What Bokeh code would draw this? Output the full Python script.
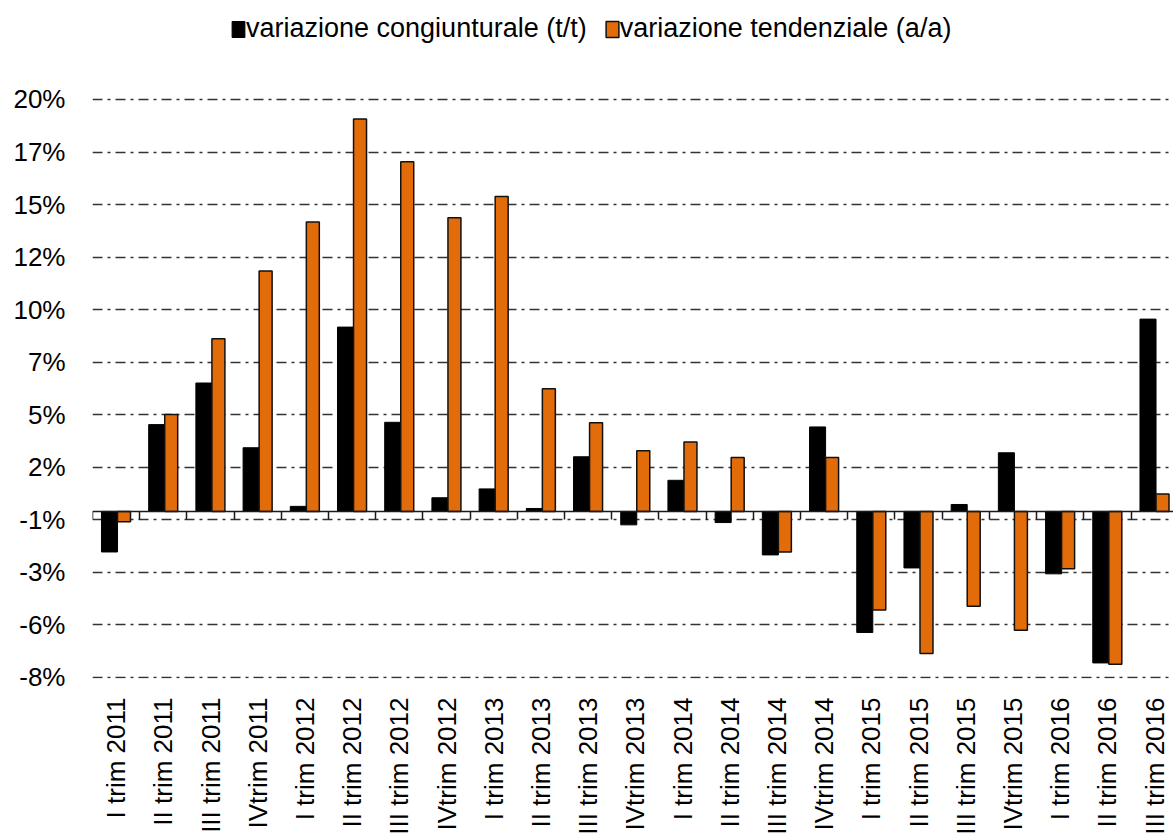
import math
from bokeh.plotting import figure
from bokeh.models import (Range1d, FixedTicker, LinearAxis, Legend, LegendItem,
                          ColumnDataSource)
from bokeh.transform import dodge
from bokeh.embed import file_html
from bokeh.resources import INLINE

categories = ["I trim 2011", "II trim 2011", "III trim 2011", "IVtrim 2011",
              "I trim 2012", "II trim 2012", "III trim 2012", "IVtrim 2012",
              "I trim 2013", "II trim 2013", "III trim 2013", "IVtrim 2013",
              "I trim 2014", "II trim 2014", "III trim 2014", "IVtrim 2014",
              "I trim 2015", "II trim 2015", "III trim 2015", "IVtrim 2015",
              "I trim 2016", "II trim 2016", "III trim 2016"]
congiunturale = [-1.93, 4.13, 6.11, 3.03, 0.24, 8.77, 4.24, 0.65, 1.07, 0.14, 2.60, -0.64,
                 1.48, -0.53, -2.07, 4.02, -5.76, -2.69, 0.33, 2.79, -2.97, -7.21, 9.15]
tendenziale = [-0.49, 4.61, 8.22, 11.44, 13.77, 18.67, 16.64, 13.97, 14.99, 5.84, 4.22, 2.89,
               3.30, 2.56, -1.93, 2.56, -4.69, -6.76, -4.51, -5.65, -2.73, -7.27, 0.83]
y_tick_values = [-7.9, -5.4, -2.9, -0.4, 2.1, 4.6, 7.1, 9.6, 12.1, 14.6, 17.1, 19.6]
y_tick_labels = ["-8%", "-6%", "-3%", "-1%", "2%", "5%", "7%", "10%", "12%", "15%", "17%", "20%"]
series_names = ["variazione congiunturale (t/t)", "variazione tendenziale (a/a)"]

FONT = "Liberation Sans"
FS = "26px"
FRAME_H = 678

idx = list(range(len(categories)))
source = ColumnDataSource(dict(x=idx, c=congiunturale, t=tendenziale))

p = figure(frame_width=1081, frame_height=FRAME_H, output_backend="svg", toolbar_location=None,
           x_range=Range1d(0, 22.9), y_range=Range1d(-7.95, 24.31),
           min_border_left=92, min_border_right=0, min_border_top=0, min_border_bottom=0,
           background_fill_color="white", border_fill_color="white")
p.outline_line_color = None

r1 = p.vbar(x=dodge("x", 0.36), width=0.34, top="c", bottom=0, source=source,
            fill_color="black", line_color="black", line_width=1)
r2 = p.vbar(x=dodge("x", 0.6675), width=0.275, top="t", bottom=0, source=source,
            fill_color="#E36C0A", line_color="#111111", line_width=1.5)

# y axis
yax = p.yaxis[0]
yax.ticker = FixedTicker(ticks=y_tick_values)
yax.major_label_overrides = {v: l for v, l in zip(y_tick_values, y_tick_labels)}
yax.axis_line_color = None
yax.major_tick_line_color = None
yax.minor_tick_line_color = None
yax.major_tick_out = 0
yax.major_tick_in = 0
yax.major_label_standoff = 27
yax.major_label_text_font = FONT
yax.major_label_text_font_size = FS
yax.major_label_text_color = "black"

# bottom category labels
xax = p.xaxis[0]
xax.ticker = FixedTicker(ticks=[i + 0.5 for i in idx])
xax.major_label_overrides = {i + 0.5: c for i, c in zip(idx, categories)}
xax.major_label_orientation = math.pi / 2
xax.axis_line_color = None
xax.major_tick_line_color = None
xax.minor_tick_line_color = None
xax.major_tick_out = 0
xax.major_tick_in = 0
xax.major_label_standoff = 19
xax.major_label_text_font = FONT
xax.major_label_text_font_size = FS
xax.major_label_text_color = "black"

# zero axis with boundary ticks
zax = LinearAxis(fixed_location=0, ticker=FixedTicker(ticks=list(range(len(categories) + 1))))
zax.axis_line_color = "#1a1a1a"
zax.axis_line_width = 1.5
zax.major_tick_line_color = "#1a1a1a"
zax.major_tick_line_width = 1.5
zax.major_tick_out = 8
zax.major_tick_in = 0
zax.minor_tick_line_color = None
zax.major_label_text_alpha = 0
zax.major_label_text_font_size = "1px"
p.add_layout(zax, "below")

# grid
p.xgrid.visible = False
p.ygrid.ticker = FixedTicker(ticks=y_tick_values)
p.ygrid.grid_line_color = "#333333"
p.ygrid.grid_line_width = 1.5
p.ygrid.grid_line_dash = "10 5 3 5"

legend = Legend(items=[LegendItem(label=series_names[0], renderers=[r1]),
                       LegendItem(label=series_names[1], renderers=[r2])],
                orientation="horizontal", location=(138, FRAME_H - 44),
                glyph_width=16, glyph_height=20, label_standoff=-2, spacing=17,
                padding=0, margin=0, border_line_color=None, background_fill_alpha=0,
                label_text_font=FONT, label_text_font_size="27px", label_text_color="black",
                label_height=20)
p.add_layout(legend, "center")

open("out.html", "w").write(file_html(p, INLINE))
